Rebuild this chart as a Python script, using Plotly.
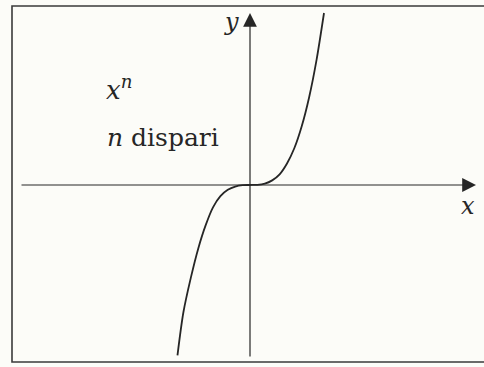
import plotly.graph_objects as go

# Points (math units: x in "74 px", y in "172 px")
curve_x = [-0.98, -0.9, -0.8, -0.7, -0.6, -0.5, -0.4, -0.3, -0.2, -0.1, 0.0,
           0.1, 0.2, 0.3, 0.4, 0.5, 0.6, 0.7, 0.8, 0.9, 1.0]
curve_y = [-0.99, -0.74, -0.54, -0.37, -0.235, -0.13, -0.065, -0.028, -0.009, -0.001, 0.0,
           0.001, 0.008, 0.027, 0.062, 0.125, 0.215, 0.343, 0.512, 0.729, 1.0]

label_curve = "<i>x</i><sup><i>n</i></sup>"
label_note = "<i>n</i> dispari"
label_x = "<i>x</i>"
label_y = "<i>y</i>"

W, H = 484, 367
OX, OY = 250, 185      # pixel of origin
SX, SY = 74, 172       # pixels per unit


def dx(px):
    return (px - OX) / SX


def dy(py):
    return (OY - py) / SY


ink = "#262626"
bg = "#fcfcf8"
font_fam = "DejaVu Serif"

fig = go.Figure()
fig.add_trace(go.Scatter(x=curve_x, y=curve_y, mode="lines",
                         line=dict(color=ink, width=1.8, shape="spline", smoothing=0.8),
                         hoverinfo="skip", showlegend=False))

annotations = [
    dict(x=dx(476), y=0, ax=dx(20), ay=0, xref="x", yref="y", axref="x", ayref="y",
         text="", showarrow=True, arrowhead=2, arrowsize=2.3, arrowwidth=1.2,
         arrowcolor=ink, standoff=0, startstandoff=0),
    dict(x=0, y=dy(13), ax=0, ay=dy(358), xref="x", yref="y", axref="x", ayref="y",
         text="", showarrow=True, arrowhead=2, arrowsize=2.3, arrowwidth=1.2,
         arrowcolor=ink, standoff=0, startstandoff=0),
    dict(x=dx(231), y=dy(22), xref="x", yref="y", text=label_y, showarrow=False,
         font=dict(family=font_fam, size=24, color=ink), xanchor="center", yanchor="middle"),
    dict(x=dx(468), y=dy(206), xref="x", yref="y", text=label_x, showarrow=False,
         font=dict(family=font_fam, size=24, color=ink), xanchor="center", yanchor="middle"),
    dict(x=dx(104), y=dy(88), xref="x", yref="y", text=label_curve, showarrow=False,
         font=dict(family=font_fam, size=26, color=ink), xanchor="left", yanchor="middle"),
    dict(x=dx(105), y=dy(137), xref="x", yref="y", text=label_note, showarrow=False,
         font=dict(family=font_fam, size=25, color=ink), xanchor="left", yanchor="middle"),
]

shapes = [
    dict(type="rect", xref="paper", yref="paper",
         x0=12 / W, x1=1.05, y0=1 - 362 / H, y1=1 - 6 / H,
         line=dict(color="#3a3a3a", width=1.6), fillcolor="rgba(0,0,0,0)", layer="below"),
]

fig.update_layout(
    width=W, height=H, margin=dict(l=0, r=0, t=0, b=0),
    paper_bgcolor=bg, plot_bgcolor=bg,
    xaxis=dict(range=[dx(0), dx(W)], visible=False, fixedrange=True),
    yaxis=dict(range=[dy(H), dy(0)], visible=False, fixedrange=True),
    annotations=annotations, shapes=shapes, showlegend=False,
)

fig.write_html("out.html", config={"displayModeBar": False},
               post_script="document.body.style.margin='0';document.body.style.overflow='hidden';")
